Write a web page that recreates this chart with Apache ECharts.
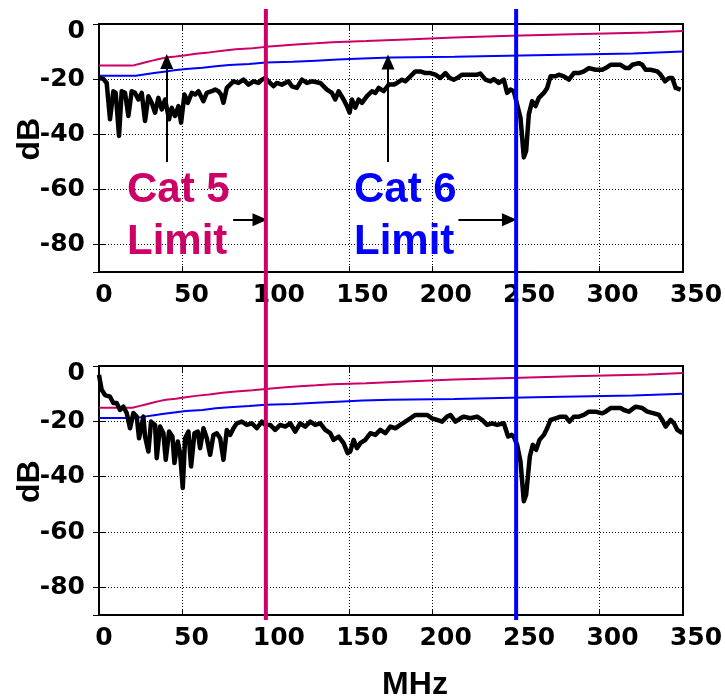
<!DOCTYPE html>
<html><head><meta charset="utf-8">
<script src="https://cdn.jsdelivr.net/npm/echarts@6/dist/echarts.min.js"></script>
<style>html,body{margin:0;padding:0;background:#fff}#c{width:725px;height:699px}</style>
</head><body><div id="c"></div>
<script>
// ---- data ----
const xTicks = [0, 50, 100, 150, 200, 250, 300, 350];
const yTicks = [0, -20, -40, -60, -80];
const cat5Freq  = [0,20,24,28,32,36,40,46,52,58,66,74,82,92,100,110,118,130,140,160,184,213,247,284,329,350];
const cat5Limit = [-15.1,-14.5,-13.9,-13.3,-12.7,-12.2,-11.8,-11.3,-10.8,-10.3,-9.7,-9.2,-8.8,-8.3,-7.8,-7.4,-7.0,-6.6,-6.2,-5.6,-4.9,-4.3,-3.7,-3.1,-2.5,-2.5];
const cat6Freq  = [0,22,27,33,39,45,52,62,70,78,90,100,116,130,143,158,175,213,261,320,350];
const cat6Limit = [-18.8,-18.3,-17.8,-17.3,-16.8,-16.3,-15.9,-15.3,-14.9,-14.5,-14.0,-13.7,-13.3,-12.9,-12.5,-12.2,-11.9,-11.3,-10.7,-10.0,-10.0];
const cat5Mark = 100;   // MHz, Cat 5 limit
const cat6Mark = 250;   // MHz, Cat 6 limit

const freqTop = [0,2.6,4.6,6.6,8.6,10,12,13.6,15.6,17.6,19.6,21.6,23.6,25.6,27.6,29.6,31.6,33.6,35.6,37.6,39.6,42,43.6,45.6,47.6,49.2,51.2,53.2,55.6,57.6,59.6,62.6,64.6,67.6,69.6,71.6,73.2,74.6,76.6,78.6,80.6,83.6,86.6,89.6,92.6,95.6,97.6,99.6,101.6,104.6,106.6,109.6,113.6,115.6,118.6,121.6,124.6,127.6,132.6,136.6,139.6,141.6,143.6,146.6,148.6,150.2,151.6,153.6,155.6,157.6,160.6,163.6,165.6,167.6,170.6,173.6,176.6,178.6,181.6,183.6,186.6,189.6,192.6,195.6,198.6,201.6,204.6,207.6,210.2,212.6,214.6,217.6,220.6,223.6,226.6,228.6,231.6,234.6,236.6,239.6,240.6,242.6,244.6,246.6,248.6,250.6,252.6,254.6,256,257.6,259.6,261.6,263.6,266.6,268.6,270.6,273.6,275.6,278.6,281.6,284.6,287.6,290.6,293.6,297.6,301.6,303.6,306.6,309.6,312.6,315.6,317.6,319.6,323.6,325.6,327.6,330.6,334.6,336.6,339.2,341.6,343.6,345.6,348.6];
const dbTop = [-19.6,-19.9,-21.4,-34.6,-24.4,-25.0,-40.6,-24.4,-25.0,-33.4,-24.4,-25.0,-27.4,-25.0,-35.2,-26.2,-28.6,-32.2,-26.8,-31.0,-27.4,-34.6,-30.4,-33.4,-29.8,-35.8,-25.6,-28.6,-25.0,-25.6,-24.4,-28.0,-25.0,-24.4,-23.8,-24.4,-25.6,-28.6,-23.2,-22.0,-20.8,-21.4,-20.2,-22.0,-20.8,-21.4,-20.2,-19.6,-20.8,-22.6,-21.4,-22.0,-20.8,-22.6,-23.2,-20.2,-21.4,-20.8,-21.4,-23.8,-25.0,-27.4,-24.4,-27.4,-29.8,-32.2,-27.4,-30.4,-27.4,-28.6,-26.2,-24.4,-25.0,-23.2,-24.4,-22.0,-22.0,-21.4,-20.2,-20.8,-19.0,-17.2,-17.2,-17.8,-17.8,-18.4,-19.6,-17.8,-19.6,-20.2,-19.6,-18.4,-18.4,-18.4,-18.4,-18.0,-20.2,-20.8,-20.0,-21.4,-21.4,-20.2,-25.0,-23.8,-24.4,-29.2,-34.0,-48.4,-46.0,-32.8,-28.0,-29.8,-26.8,-25.0,-23.2,-19.0,-19.0,-18.4,-19.0,-20.2,-17.8,-17.8,-17.2,-16.0,-16.6,-16.6,-16.0,-14.8,-14.8,-14.8,-16.0,-16.0,-14.8,-14.2,-14.8,-16.6,-16.6,-17.2,-18.4,-20.8,-19.6,-19.6,-23.2,-23.8];

const freqBottom = [0,1.6,3.6,6.6,8.6,10.6,12.6,14.6,16.6,18.6,20.6,22.6,24,26.6,27.6,29.6,31.2,33.6,34.6,36.6,38.6,40,42,44,45.2,47.2,48.6,50.2,51.6,53.6,55.2,57.2,59.2,60.6,62.6,64.6,66.6,68.6,70.6,72.6,74.6,76.6,78.6,80.6,82.6,85.6,88.6,91.6,94.6,97.6,99.6,102.6,105.6,108.6,111.6,114.6,117.6,120.6,123.6,126.6,129.6,132.6,135.6,138.6,140.6,143.6,146.6,149,150.6,152.6,154.6,156.6,159.6,162.6,165.6,168.6,171.6,174.6,177.6,180.6,183.6,186.6,189.6,193.6,196.6,199.6,202.6,205.6,208.6,210.6,213.6,216.6,218.6,222.6,226.6,229.6,232.6,235.6,238.6,239.6,242.6,245.2,247.2,248.6,250.6,252.6,254.6,256,258.2,260,262,264,266.6,268.6,270.6,273.6,276.6,279.6,282,284.6,287.6,290.6,293.6,297.6,301.6,303.6,306.6,312.6,314.6,317.6,321.6,325.6,328.6,332.6,335.6,337.6,339.6,342.6,344.6,346.6,349.6];
const dbBottom = [-3.2,-8.6,-10.5,-11.1,-13.4,-13.4,-15.9,-14.7,-17.0,-22.5,-17.0,-18.3,-26.1,-18.3,-25.5,-30.9,-20.1,-21.3,-33.3,-21.9,-24.3,-33.9,-23.7,-25.5,-35.1,-27.3,-31.5,-44.1,-26.1,-23.7,-36.3,-24.3,-23.7,-29.7,-22.5,-26.1,-32.1,-24.9,-24.3,-26.1,-33.9,-23.1,-24.9,-22.5,-20.7,-20.1,-21.3,-20.7,-22.5,-20.1,-21.3,-21.3,-23.1,-21.3,-21.9,-20.7,-23.7,-20.7,-21.9,-20.1,-21.3,-20.7,-23.1,-24.3,-26.7,-25.5,-27.9,-31.5,-30.9,-26.7,-29.7,-27.9,-26.7,-24.3,-24.9,-23.1,-24.3,-21.9,-22.5,-21.3,-20.1,-18.9,-17.7,-17.7,-17.7,-18.9,-19.5,-20.1,-18.3,-17.7,-20.1,-18.9,-18.3,-18.9,-18.3,-19.5,-21.3,-20.7,-21.3,-21.3,-20.7,-25.5,-24.9,-25.5,-28.5,-34.5,-48.9,-46.5,-32.7,-28.5,-30.3,-26.7,-24.9,-22.5,-19.5,-18.9,-18.3,-18.3,-20.1,-18.3,-18.3,-17.7,-16.5,-16.5,-17.1,-16.5,-15.2,-15.2,-15.9,-16.5,-14.7,-15.2,-16.5,-17.1,-17.7,-19.5,-21.9,-19.5,-20.7,-23.1,-24.3];

// ---- helpers ----
const FONT = '"Liberation Sans", Arial, sans-serif';
const TICKFONT = '"DejaVu Sans", Verdana, sans-serif';
const MAG = '#cc0066', BLU = '#0000ff';
const zip = (a, b) => a.map((v, i) => [v, b[i]]);

const gridBase = { left: 99, width: 584, show: true, borderColor: '#000', borderWidth: 2,
  backgroundColor: 'transparent', containLabel: false, outerBoundsMode: 'none' };
const grids = [
  Object.assign({ top: 24, height: 248 }, gridBase),
  Object.assign({ top: 366, height: 249 }, gridBase)
];

const tickText = { fontFamily: TICKFONT, fontWeight: 'bold', fontSize: 25, color: '#000' };
const tickRich = {
  s1: Object.assign({ padding: [0, 0, 0, 10] }, tickText),
  s2: Object.assign({ padding: [0, 0, 0, 18] }, tickText),
  s3: Object.assign({ padding: [0, 0, 0, 26] }, tickText),
  z:  Object.assign({ padding: [14, 0, 0, 0] }, tickText),
  n:  Object.assign({}, tickText)
};
const gridDots = { color: '#000', type: [1, 2], width: 1 };
const tickStyle = { show: true, inside: true, length: 6, lineStyle: { color: '#000', width: 1 } };

function xAxes(gi, withName) {
  return [{
    type: 'value', gridIndex: gi, min: 0, max: 350, interval: 50,
    axisLine: { show: true, onZero: false, lineStyle: { color: '#000', width: 2 } },
    axisTick: tickStyle,
    axisLabel: { show: true, margin: 11, hideOverlap: false, color: '#000', fontFamily: TICKFONT, fontWeight: 'bold', fontSize: 25,
      formatter: v => xTicks.includes(v) ? '{s' + String(v).length + '|' + v + '}' : '', rich: tickRich },
    splitLine: { show: true, lineStyle: gridDots },
    name: withName ? 'MHz' : '', nameLocation: 'middle', nameGap: 54, nameMoveOverlap: false,
    nameTextStyle: { color: '#000', fontFamily: FONT, fontWeight: 'bold', fontSize: 32, padding: [0, 0, 0, 48] }
  }, {
    type: 'value', gridIndex: gi, min: 0, max: 350, interval: 50, position: 'top',
    axisLine: { show: false }, axisTick: tickStyle, axisLabel: { show: false }, splitLine: { show: false }
  }];
}
function yAxes(gi) {
  return [{
    type: 'value', gridIndex: gi, min: -90, max: 0, splitNumber: 5,
    axisLine: { show: true, onZero: false, lineStyle: { color: '#000', width: 2 } },
    axisTick: tickStyle,
    axisLabel: { show: true, margin: 14, showMinLabel: false, hideOverlap: false, color: '#000', fontFamily: TICKFONT, fontWeight: 'bold', fontSize: 25,
      formatter: v => yTicks.includes(v) ? (v === 0 ? '{z|0}' : '{n|' + v + '}') : '', rich: tickRich },
    splitLine: { show: true, lineStyle: gridDots }
  }, {
    type: 'value', gridIndex: gi, min: -90, max: 0, splitNumber: 5, position: 'right',
    axisLine: { show: false }, axisTick: tickStyle, axisLabel: { show: false }, splitLine: { show: false }
  }];
}

const arrowStyle = { color: '#000', width: 2, type: 'solid' };
function seriesFor(gi, freq, db, arrows) {
  const xi = gi * 2, yi = gi * 2;
  return [
    { type: 'line', xAxisIndex: xi, yAxisIndex: yi, step: 'end', showSymbol: false, silent: true,
      data: zip(cat5Freq, cat5Limit), lineStyle: { color: MAG, width: 2 }, z: 3 },
    { type: 'line', xAxisIndex: xi, yAxisIndex: yi, step: 'end', showSymbol: false, silent: true,
      data: zip(cat6Freq, cat6Limit), lineStyle: { color: BLU, width: 2 }, z: 3 },
    { type: 'line', xAxisIndex: xi, yAxisIndex: yi, showSymbol: false, silent: true,
      data: zip(freq, db), lineStyle: { color: '#000', width: 4.5, join: 'round' }, z: 4,
      markLine: arrows ? {
        silent: true, symbol: ['none', 'triangle'], symbolSize: [13, 15],
        lineStyle: arrowStyle, label: { show: false }, animation: false,
        data: arrows.map(a => [{ coord: a[0] }, { coord: a[1] }])
      } : undefined }
  ];
}

const arrowsTop = [
  [[40.6, -50.1], [40.6, -13.6]],
  [[173.2, -50.1], [173.2, -13.8]],
  [[80.4, -71.0], [96.5, -71.0]],
  [[215.4, -71.0], [246.0, -71.0]]
];

const chart = echarts.init(document.getElementById('c'), null, { renderer: 'canvas' });
chart.setOption({
  animation: false,
  backgroundColor: '#fff',
  grid: grids,
  xAxis: [...xAxes(0, false), ...xAxes(1, true)],
  yAxis: [...yAxes(0), ...yAxes(1)],
  series: [...seriesFor(0, freqTop, dbTop, arrowsTop), ...seriesFor(1, freqBottom, dbBottom, null)]
});

// Vertical limit markers spanning both panels, placed through the x axis scale
const x5 = chart.convertToPixel({ xAxisIndex: 0 }, cat5Mark);
const x6 = chart.convertToPixel({ xAxisIndex: 0 }, cat6Mark);
const yName0 = chart.convertToPixel({ yAxisIndex: 0 }, -41.8);
const yName1 = chart.convertToPixel({ yAxisIndex: 2 }, -41.8);
const txt = (text, x, y, color) => ({ type: 'text', x, y, z: 100,
  style: { text, fill: color, font: 'bold 42px ' + FONT, textAlign: 'left', textVerticalAlign: 'middle' } });
const dbName = y => ({ type: 'text', x: 30, y, rotation: Math.PI / 2, z: 100,
  style: { text: 'dB', fill: '#000', font: 'bold 32px ' + FONT, textAlign: 'center', textVerticalAlign: 'middle' } });
chart.setOption({
  graphic: [
    { type: 'line', z: 90, shape: { x1: x5, y1: 9, x2: x5, y2: 620 }, style: { stroke: MAG, lineWidth: 4 } },
    { type: 'line', z: 90, shape: { x1: x6, y1: 9, x2: x6, y2: 620 }, style: { stroke: BLU, lineWidth: 4 } },
    txt('Cat 5', 127, 190, MAG),
    txt('Limit', 127, 242, MAG),
    txt('Cat 6', 354, 190, BLU),
    txt('Limit', 354, 242, BLU),
    dbName(yName0),
    dbName(yName1)
  ]
});
</script>
</body></html>
